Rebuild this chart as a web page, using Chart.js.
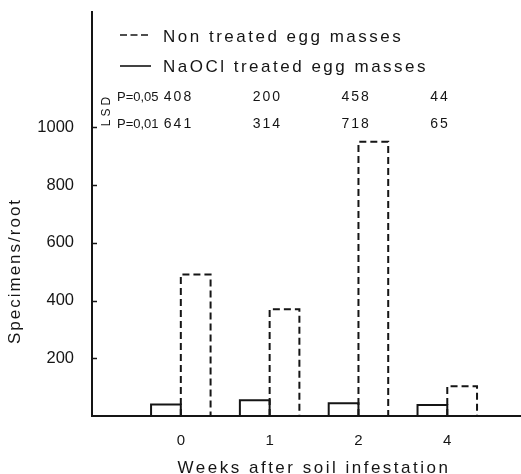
<!DOCTYPE html>
<html><head><meta charset="utf-8">
<script src="https://cdn.jsdelivr.net/npm/chart.js@4/dist/chart.umd.min.js"></script>
<style>html,body{margin:0;padding:0;background:#fff}canvas{display:block}</style>
</head><body>
<canvas id="c" width="521" height="474"></canvas>
<script>
// ---- data ----
const categories = ['0', '1', '2', '4'];
const nonTreated = [490, 370, 950, 103];
const naocl = [40, 55, 44, 38];
const yTickValues = [200, 400, 600, 800, 1000];
const lsdLabels = ['P=0,05', 'P=0,01'];
const lsdP05 = [408, 200, 458, 44];
const lsdP01 = [641, 314, 718, 65];
const legendLabels = ['Non treated egg masses', 'NaOCl treated egg masses'];
const xTitle = 'Weeks after soil infestation';
const yTitle = 'Specimens/root';
const lsdTitle = 'LSD';

// ---- style ----
const ink = '#151515';
const FONT = '"Liberation Sans", Arial, Helvetica, sans-serif';

function txt(ctx, s, x, y, size, ls, align, rot) {
  ctx.save();
  ctx.font = size + 'px ' + FONT;
  ctx.fillStyle = ink;
  ctx.textAlign = align || 'left';
  ctx.textBaseline = 'alphabetic';
  if ('letterSpacing' in ctx) ctx.letterSpacing = ls + 'px';
  ctx.translate(x, y);
  if (rot) ctx.rotate(rot);
  ctx.fillText(s, 0, 0);
  ctx.restore();
}

const deco = {
  id: 'deco',
  afterDatasetsDraw(chart) {
    const ctx = chart.ctx;
    chart.data.datasets.forEach((ds, di) => {
      const meta = chart.getDatasetMeta(di);
      meta.data.forEach(bar => {
        const p = bar.getProps(['x', 'y', 'base', 'width'], true);
        const l = p.x - p.width / 2, r = p.x + p.width / 2;
        ctx.save();
        ctx.strokeStyle = ink;
        ctx.lineWidth = 2;
        ctx.setLineDash(ds.outlineDash);
        ctx.beginPath();
        ctx.moveTo(l, p.base);
        ctx.lineTo(l, p.y);
        ctx.lineTo(r, p.y);
        ctx.lineTo(r, p.base);
        ctx.stroke();
        ctx.restore();
      });
    });
  },
  afterDraw(chart) {
    const ctx = chart.ctx, xs = chart.scales.x, ys = chart.scales.y;
    const left = chart.chartArea.left;
    // inward tick marks
    ctx.save();
    ctx.strokeStyle = ink; ctx.lineWidth = 1.5;
    yTickValues.forEach(v => {
      const py = Math.round(ys.getPixelForValue(v)) + 0.5;
      ctx.beginPath(); ctx.moveTo(left, py); ctx.lineTo(left + 5, py); ctx.stroke();
    });
    // legend samples
    ctx.lineWidth = 1.6;
    ctx.setLineDash([7, 3.5]);
    ctx.beginPath(); ctx.moveTo(120, 35); ctx.lineTo(148, 35); ctx.stroke();
    ctx.setLineDash([]);
    ctx.beginPath(); ctx.moveTo(120, 66); ctx.lineTo(151, 66); ctx.stroke();
    ctx.restore();
    txt(ctx, legendLabels[0], 163, 42, 17, 2.5);
    txt(ctx, legendLabels[1], 163, 72, 17, 2.5);
    // LSD table
    txt(ctx, lsdTitle, 110, 110, 12, 3, 'center', -Math.PI / 2);
    txt(ctx, lsdLabels[0], 117, 101, 13, 0);
    txt(ctx, lsdLabels[1], 117, 128, 13, 0);
    categories.forEach((c, i) => {
      const px = xs.getPixelForValue(i) - 17;
      txt(ctx, String(lsdP05[i]), px, 101, 14, 2);
      txt(ctx, String(lsdP01[i]), px, 128, 14, 2);
    });
    // axis titles
    txt(ctx, xTitle, 314, 473, 17, 2.5, 'center');
    txt(ctx, yTitle, 20, 271, 17, 2, 'center', -Math.PI / 2);
  }
};

new Chart(document.getElementById('c'), {
  type: 'bar',
  data: {
    datasets: [
      { label: legendLabels[1], data: categories.map((c, i) => ({ x: i, y: naocl[i] })),
        backgroundColor: 'rgba(0,0,0,0)', borderWidth: 0, outlineDash: [],
        categoryPercentage: 0.67, barPercentage: 1.0 },
      { label: legendLabels[0], data: categories.map((c, i) => ({ x: i, y: nonTreated[i] })),
        backgroundColor: 'rgba(0,0,0,0)', borderWidth: 0, outlineDash: [7, 4],
        categoryPercentage: 0.67, barPercentage: 1.0 }
    ]
  },
  options: {
    responsive: false, animation: false, devicePixelRatio: 1,
    layout: { padding: { top: 12, left: 0, right: 0, bottom: 0 } },
    plugins: { legend: { display: false }, tooltip: { enabled: false } },
    scales: {
      x: {
        type: 'linear', min: -1, max: 3.83, offset: false,
        grid: { display: false, drawTicks: false },
        border: { display: true, color: ink, width: 2 },
        afterBuildTicks(s) { s.ticks = categories.map((c, i) => ({ value: i })); },
        ticks: { callback: v => (categories[v] !== undefined ? categories[v] : ''),
                 font: { family: FONT, size: 15 }, color: ink, padding: 16,
                 maxRotation: 0, autoSkip: false },
        afterFit(s) { s.height = 58; s.paddingLeft = 0; s.paddingRight = 0; }
      },
      y: {
        min: 0, max: 1400,
        grid: { display: false, drawTicks: false },
        border: { display: true, color: ink, width: 2 },
        afterBuildTicks(s) { s.ticks = yTickValues.map(v => ({ value: v })); },
        ticks: { callback: v => String(v), font: { family: FONT, size: 16.5 }, color: ink,
                 padding: 18, autoSkip: false },
        afterFit(s) { s.width = 92; s.paddingTop = 0; s.paddingBottom = 0; }
      }
    }
  },
  plugins: [deco]
});
</script>
</body></html>
